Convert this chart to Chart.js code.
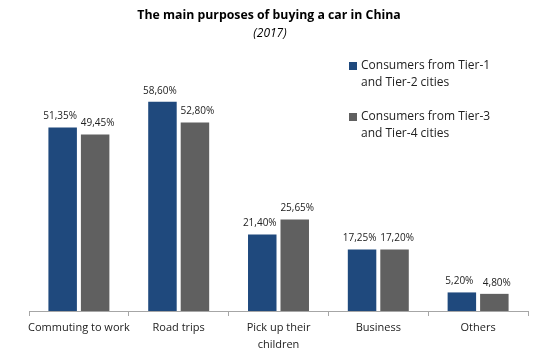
<!DOCTYPE html>
<html>
<head>
<meta charset="utf-8">
<script src="https://cdn.jsdelivr.net/npm/chart.js@4"></script>
<style>
html,body{margin:0;padding:0;background:#fff;}
#wrap{width:537px;height:353px;position:relative;}
</style>
</head>
<body>
<div id="wrap"><canvas id="c" width="537" height="353"></canvas></div>
<script>
const categories = ["Commuting to work", "Road trips", ["Pick up their", "children"], "Business", "Others"];
const tier12 = [51.35, 58.60, 21.40, 17.25, 5.20];
const tier34 = [49.45, 52.80, 25.65, 17.20, 4.80];
const seriesNames = [["Consumers from Tier-1", "and Tier-2 cities"], ["Consumers from Tier-3", "and Tier-4 cities"]];
const titleText = "The main purposes of buying a car in China";
const subtitleText = "(2017)";

const FONT = "'Open Sans', 'Noto Sans', sans-serif";
const colors = ["#1F497D", "#606060"];

const fmt = v => v.toFixed(2).replace('.', ',') + '%';

const customDraw = {
  id: 'customDraw',
  afterDatasetsDraw(chart) {
    const ctx = chart.ctx;
    ctx.save();
    ctx.fillStyle = '#222';
    ctx.font = "10px " + FONT;
    ctx.textAlign = 'center';
    ctx.textBaseline = 'middle';
    const spread = [-2.5, 2.5];
    chart.data.datasets.forEach((ds, di) => {
      const meta = chart.getDatasetMeta(di);
      meta.data.forEach((bar, i) => {
        ctx.fillText(fmt(ds.data[i]), bar.x + spread[di], bar.y - 11);
      });
    });
    ctx.restore();
  },
  afterDraw(chart) {
    const ctx = chart.ctx;
    ctx.save();
    ctx.fillStyle = '#000';
    ctx.textAlign = 'center';
    ctx.textBaseline = 'middle';
    ctx.font = "bold 12.3px " + FONT;
    ctx.fillText(titleText, 269, 15.5);
    ctx.font = "italic 12px " + FONT;
    ctx.fillText(subtitleText, 270, 34);
    // legend
    ctx.textAlign = 'left';
    ctx.font = "12px " + FONT;
    const legendTops = [66, 117];
    seriesNames.forEach((lines, k) => {
      const y0 = legendTops[k];
      ctx.fillStyle = colors[k];
      ctx.fillRect(349, y0 - 4, 8, 8);
      ctx.fillStyle = '#222';
      lines.forEach((ln, j) => ctx.fillText(ln, 361, y0 + j * 17));
    });
    ctx.restore();
  }
};

new Chart(document.getElementById('c'), {
  type: 'bar',
  data: {
    labels: categories,
    datasets: [
      { label: "Tier-1/2", data: tier12, backgroundColor: colors[0], barPercentage: 0.877, categoryPercentage: 0.651 },
      { label: "Tier-3/4", data: tier34, backgroundColor: colors[1], barPercentage: 0.877, categoryPercentage: 0.651 }
    ]
  },
  options: {
    responsive: false,
    animation: false,
    devicePixelRatio: 1,
    layout: { padding: { top: 61, left: 29, right: 9, bottom: 0 } },
    plugins: { legend: { display: false }, title: { display: false }, tooltip: { enabled: false } },
    scales: {
      x: {
        grid: { drawOnChartArea: false, offset: true, tickLength: 5, color: '#A6A6A6' },
        border: { color: '#A6A6A6', width: 1 },
        ticks: { color: '#222', font: { family: FONT, size: 11, lineHeight: 1.5 }, padding: 4, maxRotation: 0, autoSkip: false },
        afterFit(scale) { scale.height = 42; }
      },
      y: {
        display: false,
        min: 0, max: 70
      }
    }
  },
  plugins: [customDraw]
});
</script>
</body>
</html>
